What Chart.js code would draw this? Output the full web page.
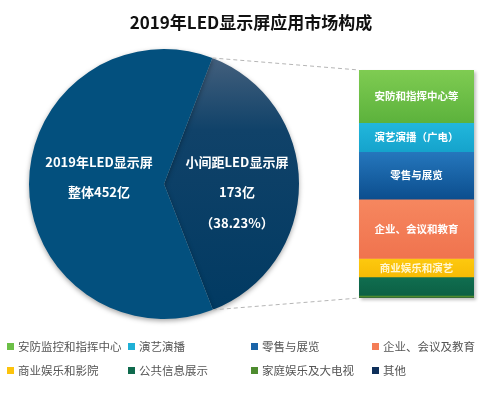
<!DOCTYPE html>
<html>
<head>
<meta charset="utf-8">
<script src="https://cdn.jsdelivr.net/npm/chart.js@4/dist/chart.umd.min.js"></script>
<style>
  body { margin: 0; background: #fff; font-family: "Noto Sans CJK SC", "Noto Sans", sans-serif; }
  #wrap { position: relative; width: 484px; height: 395px; overflow: hidden; }
  #title { position: absolute; left: 0; top: 9px; width: 502px; text-align: center; font-size: 17px; font-weight: bold; color: #111; }
  #pieBox { position: absolute; left: 0; top: 0; width: 484px; height: 395px; }
  #barBox { position: absolute; left: 359px; top: 70px; width: 115px; height: 228px; box-shadow: 2px 2px 3px rgba(0,0,0,0.25); }
  #legend { position: absolute; left: 7px; top: 337px; width: 484px; }
  .item { position: absolute; font-size: 11.5px; color: #555; white-space: nowrap; line-height: 18px; }
  .item span { display: inline-block; width: 7px; height: 7px; margin-right: 4px; vertical-align: 1px; }
</style>
</head>
<body>
<div id="wrap">
  <div id="pieBox"><canvas id="pie"></canvas></div>
  <div id="title">2019年LED显示屏应用市场构成</div>
  <div id="barBox"><canvas id="bar"></canvas></div>
  <div id="legend"></div>
</div>
<script>
// 饼图：小间距 vs 其余（整体452亿）
const pieValues = [173, 279];
const pieColors = ['#0b3f69', '#03507e'];
const pieText = [
  ['小间距LED显示屏', '173亿', '（38.23%）'],
  ['2019年LED显示屏', '整体452亿']
];

// 小间距应用构成（亿）
const appNames = ['安防监控和指挥中心', '演艺演播', '零售与展览', '企业、会议及教育',
                  '商业娱乐和影院', '公共信息展示', '家庭娱乐及大电视', '其他'];
const appValues = [40, 22, 36, 45, 14, 14, 1.5, 0.5];
const appBarLabels = ['安防和指挥中心等', '演艺演播（广电）', '零售与展览', '企业、会议和教育',
                      '商业娱乐和演艺', '', '', ''];
const appColors = ['#6cbf47', '#1fb0d6', '#1a64a8', '#f47d57', '#fcc30c', '#0f6a4d', '#4e8c2f', '#0e2f5a'];
// 每段的上、下渐变色
const appShades = [['#7fcc52', '#5cb23c'], ['#22b7dc', '#15a3cc'], ['#2577bd', '#0c4e8e'], ['#f6875f', '#f0734e'],
                   ['#fdc90f', '#f7bb05'], ['#106e50', '#0c6044'], ['#559632', '#47822b'], ['#0e2f5a', '#0e2f5a']];

Chart.defaults.font.family = '"Noto Sans CJK SC", "Noto Sans", sans-serif';
Chart.defaults.animation = false;

// 柱内文字
const barLabelPlugin = {
  id: 'barLabels',
  afterDatasetsDraw(chart) {
    const ctx = chart.ctx;
    ctx.save();
    ctx.font = 'bold 10.5px "Noto Sans CJK SC"';
    ctx.textAlign = 'center';
    ctx.textBaseline = 'middle';
    chart.data.datasets.forEach((ds, i) => {
      const el = chart.getDatasetMeta(i).data[0];
      if (!appBarLabels[i]) return;
      ctx.fillStyle = i === 4 ? '#fff6d0' : '#fff';
      ctx.fillText(appBarLabels[i], el.x, (el.y + el.base) / 2);
    });
    ctx.restore();
  }
};

function segmentFill(c) {
  const i = c.datasetIndex;
  const y = c.chart.scales.y;
  if (!y || !c.chart.chartArea) return appColors[i];
  let before = 0;
  for (let k = 0; k < i; k++) before += appValues[k];
  const y0 = y.getPixelForValue(before);
  const y1 = y.getPixelForValue(before + appValues[i]);
  if (!isFinite(y0) || !isFinite(y1) || y0 === y1) return appColors[i];
  const g = c.chart.ctx.createLinearGradient(0, y0, 0, y1);
  g.addColorStop(0, appShades[i][0]);
  g.addColorStop(1, appShades[i][1]);
  return g;
}

const barChart = new Chart(document.getElementById('bar'), {
  type: 'bar',
  data: {
    labels: ['小间距'],
    datasets: appNames.map((n, i) => ({
      label: n,
      data: [appValues[i]],
      backgroundColor: segmentFill,
      borderWidth: 0,
      barPercentage: 1,
      categoryPercentage: 1
    }))
  },
  options: {
    responsive: true,
    maintainAspectRatio: false,
    layout: { padding: 0 },
    plugins: { legend: { display: false }, tooltip: { enabled: false } },
    scales: {
      x: { stacked: true, display: false },
      y: { stacked: true, display: false, reverse: true, min: 0, max: 173 }
    }
  },
  plugins: [barLabelPlugin]
});

// 饼图阴影、文字和虚线
const piePlugin = {
  id: 'pieExtras',
  beforeDatasetsDraw(chart) {
    const ctx = chart.ctx;
    ctx.save();
    ctx.shadowColor = 'rgba(0,0,0,0.35)';
    ctx.shadowBlur = 5;
    ctx.shadowOffsetY = 2;
  },
  afterDatasetsDraw(chart) {
    const ctx = chart.ctx;
    ctx.restore();
    const arc = chart.getDatasetMeta(0).data[0];
    const cx = arc.x, cy = arc.y, r = arc.outerRadius;

    // 虚线连接到右侧柱
    const box = document.getElementById('barBox');
    const ca = barChart.chartArea;
    const bx = box.offsetLeft + ca.left;
    const by1 = box.offsetTop + ca.top;
    const by2 = box.offsetTop + ca.bottom;
    ctx.save();
    ctx.strokeStyle = '#b5b5b5';
    ctx.lineWidth = 1;
    ctx.setLineDash([4, 3]);
    ctx.beginPath();
    ctx.moveTo(cx + r * Math.cos(arc.startAngle), cy + r * Math.sin(arc.startAngle));
    ctx.lineTo(bx, by1);
    ctx.moveTo(cx + r * Math.cos(arc.endAngle), cy + r * Math.sin(arc.endAngle));
    ctx.lineTo(bx, by2);
    ctx.stroke();
    ctx.restore();

    // 扇区文字
    ctx.save();
    ctx.fillStyle = '#fff';
    ctx.font = 'bold 13px "Noto Sans CJK SC"';
    ctx.textAlign = 'center';
    ctx.textBaseline = 'middle';
    pieText[0].forEach((t, k) => ctx.fillText(t, cx + 73, cy - 22 + k * 30.5));
    pieText[1].forEach((t, k) => ctx.fillText(t, cx - 65, cy - 22 + k * 30));
    ctx.restore();
  }
};

new Chart(document.getElementById('pie'), {
  type: 'pie',
  data: {
    labels: ['小间距LED显示屏', '其他LED显示屏'],
    datasets: [{
      data: pieValues,
      borderWidth: 0,
      backgroundColor(c) {
        if (c.dataIndex !== 0) return pieColors[1];
        const area = c.chart.chartArea;
        if (!area) return pieColors[0];
        const g = c.chart.ctx.createLinearGradient(0, area.top, 0, area.bottom);
        g.addColorStop(0, '#4a637f');
        g.addColorStop(0.3, '#104269');
        g.addColorStop(1, '#013a62');
        return g;
      }
    }]
  },
  options: {
    responsive: true,
    maintainAspectRatio: false,
    rotation: 21,
    layout: { padding: { top: 49, left: 29, right: 185, bottom: 76 } },
    plugins: { legend: { display: false }, tooltip: { enabled: false } }
  },
  plugins: [piePlugin]
});

// 底部图例
const legendEl = document.getElementById('legend');
const colX = [0, 121, 244, 365];
appNames.forEach((name, i) => {
  const d = document.createElement('div');
  d.className = 'item';
  d.style.left = colX[i % 4] + 'px';
  d.style.top = (Math.floor(i / 4) * 24) + 'px';
  d.innerHTML = '<span style="background:' + appColors[i] + '"></span>' + name;
  legendEl.appendChild(d);
});
</script>
</body>
</html>
